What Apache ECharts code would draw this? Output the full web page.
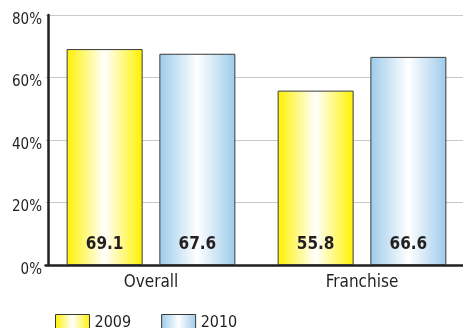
<!DOCTYPE html>
<html>
<head>
<meta charset="utf-8">
<script src="https://cdn.jsdelivr.net/npm/echarts@6/dist/echarts.min.js"></script>
<style>
  html, body { margin: 0; padding: 0; background: #fff; }
  #chart { width: 463px; height: 328px; }
</style>
</head>
<body>
<div id="chart"></div>
<script>
// Survey share by segment, two years side by side
const categories = ['Overall', 'Franchise'];
const years = ['2009', '2010'];
const values2009 = [69.1, 55.8];
const values2010 = [67.6, 66.6];
const yTicks = [0, 20, 40, 60, 80];

const FONT = '"DejaVu Sans Condensed", "Liberation Sans Narrow", sans-serif';

function hGradient(edge) {
  return new echarts.graphic.LinearGradient(0, 0, 1, 0, [
    { offset: 0, color: edge },
    { offset: 0.5, color: '#ffffff' },
    { offset: 1, color: edge }
  ]);
}

const yellow = hGradient('#fff200');
const blue = hGradient('#9dcbeb');

function barSeries(name, data, fill) {
  return {
    name: name,
    type: 'bar',
    data: data,
    barWidth: 76,
    barGap: '22%',
    itemStyle: { color: fill, borderColor: '#3a3a3a', borderWidth: 1 },
    label: {
      show: true,
      position: 'insideBottom',
      distance: 12,
      formatter: p => p.value.toFixed(1),
      fontFamily: FONT,
      fontWeight: 'bold',
      fontSize: 17,
      color: '#231f20'
    },
    emphasis: { disabled: true }
  };
}

const chart = echarts.init(document.getElementById('chart'), null, { renderer: 'canvas' });
chart.setOption({
  animation: false,
  textStyle: { fontFamily: FONT },
  grid: {
    left: 45.5, top: 15, width: 422, height: 250,
    containLabel: false, outerBoundsMode: 'none'
  },
  legend: {
    left: 50,
    top: 309,
    icon: 'rect',
    itemWidth: 34,
    itemHeight: 16,
    itemGap: 30,
    textStyle: { fontFamily: FONT, fontSize: 16, color: '#231f20' },
    data: years.map((y, i) => ({
      name: y,
      itemStyle: { color: i === 0 ? yellow : blue, borderColor: '#3a3a3a', borderWidth: 1 }
    }))
  },
  xAxis: {
    type: 'category',
    data: categories,
    axisLine: { lineStyle: { color: '#231f20', width: 2.5 } },
    axisTick: { show: false },
    axisLabel: { fontFamily: FONT, fontSize: 17, color: '#231f20', margin: 9 }
  },
  yAxis: {
    type: 'value',
    min: yTicks[0],
    max: yTicks[yTicks.length - 1],
    interval: 20,
    offset: -2.5,
    axisLine: { show: true, lineStyle: { color: '#231f20', width: 2.5 } },
    axisTick: { show: false },
    splitLine: { lineStyle: { color: '#c8c8c8', width: 1 } },
    axisLabel: {
      fontFamily: FONT, fontSize: 15, color: '#231f20', margin: 6,
      verticalAlign: 'top', lineHeight: 10,
      formatter: v => v + '%'
    }
  },
  series: [
    barSeries(years[0], values2009, yellow),
    barSeries(years[1], values2010, blue)
  ]
});
</script>
</body>
</html>
